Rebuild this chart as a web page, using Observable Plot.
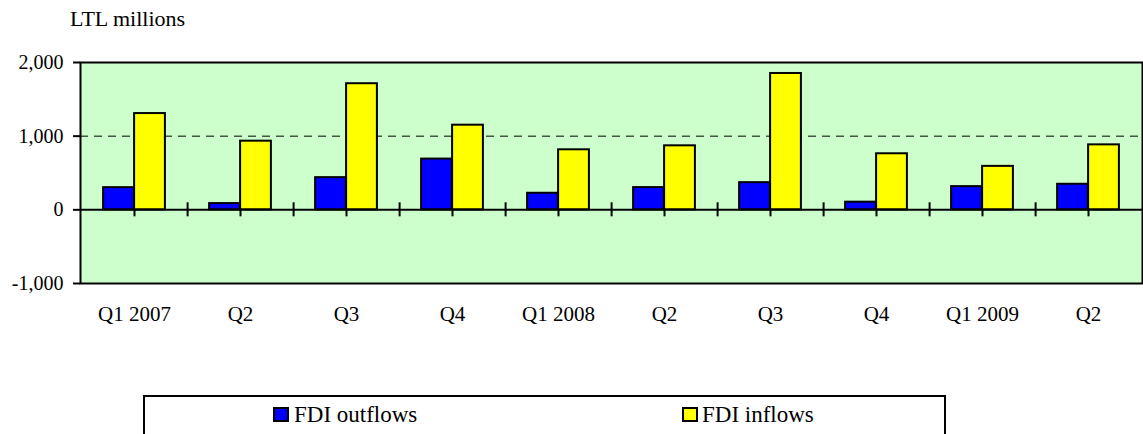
<!DOCTYPE html>
<html>
<head>
<meta charset="utf-8">
<script src="https://cdn.jsdelivr.net/npm/d3@7"></script>
<script src="https://cdn.jsdelivr.net/npm/@observablehq/plot@0.6"></script>
<style>
  html, body { margin: 0; padding: 0; background: white; overflow: hidden; }
  #wrap { position: relative; width: 1143px; height: 434px; font-family: "Liberation Serif", "Times New Roman", serif; color: black; }
  #wrap svg { position: absolute; left: 0; top: 0; }
  .abs { position: absolute; white-space: nowrap; }
  .legend-box { position: absolute; left: 143px; top: 395px; width: 803px; height: 80px; box-sizing: border-box; border: 2px solid black; background: white; }
  .swatch { position: absolute; width: 16px; height: 15px; box-sizing: border-box; border: 2px solid black; }
</style>
</head>
<body>
<div id="wrap"></div>
<script>
// ---- data ----
const quarters = ["Q1 2007","Q2 2007","Q3 2007","Q4 2007","Q1 2008","Q2 2008","Q3 2008","Q4 2008","Q1 2009","Q2 2009"];
const tickLabels = ["Q1 2007","Q2","Q3","Q4","Q1 2008","Q2","Q3","Q4","Q1 2009","Q2"];
const outflows = [301, 85, 437, 689, 225, 302, 369, 104, 315, 347];
const inflows = [1307, 932, 1712, 1149, 815, 869, 1851, 761, 590, 882];
const yTicks = [-1000, 0, 1000, 2000];
const seriesNames = ["FDI outflows", "FDI inflows"];
const seriesColors = ["#0000ff", "#ffff00"];
const unitLabel = "LTL millions";

// ---- tables ----
const outData = quarters.map((q, i) => ({quarter: q, value: outflows[i]}));
const inData = quarters.map((q, i) => ({quarter: q, value: inflows[i]}));

const W = 1143, H = 434;
const mL = 80, mR = 1, mT = 62, mB = 151;
const half = (W - mL - mR) / quarters.length / 2;
const barW = 31;

const fmt = d => d3.format(",")(d).replace("\u2212", "-");

const chart = Plot.plot({
  width: W,
  height: H,
  marginLeft: mL,
  marginRight: mR,
  marginTop: mT,
  marginBottom: mB,
  style: {fontFamily: "Liberation Serif", fontSize: "20px", background: "transparent", color: "black"},
  x: {type: "band", domain: quarters, paddingInner: 0, paddingOuter: 0, axis: null},
  y: {domain: [-1000, 2000], axis: null},
  marks: [
    Plot.frame({fill: "#ccffcc", stroke: null}),
    Plot.ruleY([1000], {stroke: "black", strokeWidth: 1, strokeDasharray: "8,6"}),
    // category tick marks on the zero line (centres and boundaries)
    Plot.ruleX(quarters, {x: d => d, y1: 0, y2: 0, insetTop: -7, insetBottom: -7, stroke: "black", strokeWidth: 2}),
    Plot.ruleX(quarters.slice(0, -1), {x: d => d, y1: 0, y2: 0, insetTop: -7, insetBottom: -7, dx: half, stroke: "black", strokeWidth: 2}),
    Plot.barY(outData, {x: "quarter", y: "value", fill: seriesColors[0], stroke: "black", strokeWidth: 2,
      insetLeft: half - barW, insetRight: half}),
    Plot.barY(inData, {x: "quarter", y: "value", fill: seriesColors[1], stroke: "black", strokeWidth: 2,
      insetLeft: half, insetRight: half - barW}),
    Plot.ruleY([0], {stroke: "black", strokeWidth: 2}),
    Plot.frame({stroke: "black", strokeWidth: 2}),
    Plot.axisY(yTicks, {label: null, tickSize: 7, tickPadding: 10, tickFormat: fmt, strokeWidth: 2, fontSize: 20}),
    Plot.text(quarters, {x: d => d, text: (d, i) => tickLabels[i], frameAnchor: "bottom", dy: 37, fontSize: 21, fill: "black"})
  ]
});

const wrap = document.getElementById("wrap");
wrap.appendChild(chart);

// title
const title = document.createElement("div");
title.className = "abs";
title.style.left = "70px";
title.style.top = "8px";
title.style.fontSize = "22px";
title.style.lineHeight = "22px";
title.textContent = unitLabel;
wrap.appendChild(title);

// legend
const box = document.createElement("div");
box.className = "legend-box";
wrap.appendChild(box);
const swatchX = [273, 682];
const textX = [294, 702];
seriesNames.forEach((name, i) => {
  const sw = document.createElement("div");
  sw.className = "swatch";
  sw.style.left = swatchX[i] + "px";
  sw.style.top = "407px";
  sw.style.background = seriesColors[i];
  wrap.appendChild(sw);
  const t = document.createElement("div");
  t.className = "abs";
  t.style.left = textX[i] + "px";
  t.style.top = "403px";
  t.style.fontSize = "23px";
  t.style.lineHeight = "23px";
  t.textContent = name;
  wrap.appendChild(t);
});
</script>
</body>
</html>
